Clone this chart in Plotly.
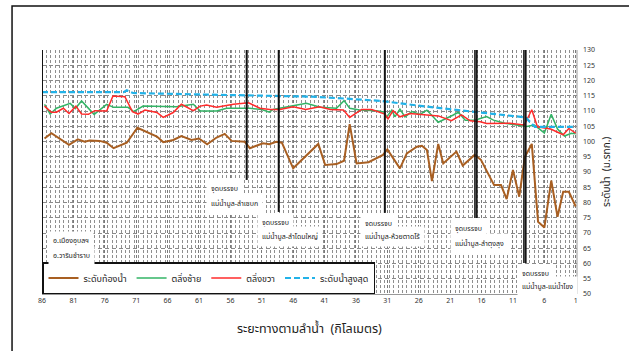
import plotly.graph_objects as go

# ---------------- data ----------------
bed_km = [85.6, 84.5, 81.7, 80.3, 79.2, 78.4, 76.8, 75.7, 74.6, 72.5, 70.8, 69.3, 67.7, 66.7,
          65.1, 63.8, 62.2, 61.0, 59.7, 58.2, 56.9, 55.8, 53.7, 52.9, 50.8, 49.8, 48.7, 47.8,
          46.0, 42.0, 40.9, 39.1, 37.9, 37.0, 35.9, 34.0, 32.7, 31.7, 31.0, 29.0, 27.9, 26.3,
          25.5, 24.7, 23.9, 22.9, 22.1, 20.0, 19.0, 17.1, 16.1, 14.0, 12.9, 12.0, 11.0, 10.0,
          9.1, 8.0, 7.0, 6.0, 4.9, 3.9, 3.0, 2.1, 1.0]
bed_lvl = [101.0, 102.7, 98.9, 100.7, 99.9, 100.3, 100.2, 99.6, 97.8, 99.6, 104.5, 103.0, 101.6, 99.8,
           100.5, 101.8, 100.5, 101.0, 99.1, 101.3, 102.5, 100.2, 99.9, 97.8, 99.4, 99.1, 99.9, 99.6,
           91.2, 99.2, 92.3, 92.6, 93.7, 105.7, 92.8, 93.2, 94.5, 95.6, 97.4, 91.2, 96.1, 98.3,
           98.6, 97.2, 87.0, 99.2, 92.8, 96.7, 92.1, 95.6, 94.0, 85.7, 85.7, 81.1, 90.7, 81.9,
           95.0, 99.2, 73.7, 71.8, 87.2, 75.3, 83.5, 83.5, 78.7]

left_km = [85.6, 84.7, 83.7, 81.5, 80.7, 79.7, 77.7, 75.7, 74.6, 72.3, 71.4, 69.9, 64.6, 61.9,
           60.8, 58.2, 56.6, 52.9, 51.0, 49.8, 49.2, 46.0, 43.9, 41.7, 39.1, 37.9, 37.0, 35.4,
           32.7, 31.4, 31.2, 30.3, 29.8, 29.0, 28.2, 27.1, 25.8, 24.7, 22.9, 20.5, 19.7, 18.6,
           17.1, 15.2, 14.1, 12.3, 8.8, 7.6, 6.0, 4.9, 3.9, 2.8, 1.7, 1.0]
left_lvl = [112.2, 109.0, 110.9, 112.5, 110.8, 113.3, 108.9, 112.2, 111.2, 111.2, 109.8, 111.6, 111.4, 112.2,
            110.0, 110.0, 110.9, 110.9, 110.5, 109.6, 110.5, 111.6, 112.5, 111.2, 110.9, 113.4, 110.9, 110.3,
            110.1, 109.6, 107.8, 110.3, 108.1, 110.6, 108.1, 109.8, 108.9, 110.3, 106.3, 108.7, 109.6, 107.0,
            107.0, 108.2, 107.0, 106.0, 104.9, 105.4, 102.8, 108.9, 104.1, 101.8, 102.7, 102.5]

right_km = [85.6, 84.5, 83.7, 82.6, 81.7, 80.6, 79.7, 78.6, 77.6, 75.7, 74.7, 72.8, 71.6, 70.7,
            69.6, 67.7, 66.7, 65.1, 63.8, 61.9, 60.8, 59.8, 58.2, 55.5, 53.1, 51.3, 49.7, 48.1,
            46.0, 44.0, 41.8, 40.1, 38.0, 37.0, 35.1, 33.5, 31.4, 30.9, 30.1, 29.0, 27.4, 25.3,
            22.9, 20.8, 19.2, 17.8, 16.2, 15.2, 13.6, 11.5, 9.2, 8.0, 7.1, 5.0, 3.0, 2.1, 1.0]
right_lvl = [111.6, 109.6, 109.6, 110.9, 109.2, 111.6, 109.0, 108.9, 110.1, 110.0, 114.9, 114.7, 109.8, 109.0,
             110.3, 109.5, 107.9, 109.5, 112.2, 110.1, 111.6, 112.0, 111.2, 112.2, 112.7, 110.9, 110.5, 110.5,
             111.4, 110.5, 111.4, 110.5, 110.3, 107.9, 110.5, 110.5, 109.0, 107.4, 110.1, 108.1, 109.2, 108.9,
             108.4, 106.8, 108.7, 106.8, 106.5, 105.9, 106.0, 106.0, 105.4, 110.4, 104.8, 104.1, 102.2, 104.3, 102.7]

max_km = [86.0, 73.0, 72.5, 71.5, 65.0, 55.0, 50.0, 43.0, 38.0, 32.0, 25.0, 17.0, 12.0, 9.0, 7.5, 1.0]
max_lvl = [116.2, 116.2, 116.8, 115.9, 115.6, 115.2, 114.9, 114.7, 114.1, 113.3, 111.5, 109.8, 108.5, 107.9, 104.8, 104.8]

x_ticks = [86, 81, 76, 71, 66, 61, 56, 51, 46, 41, 36, 31, 26, 21, 16, 11, 6, 1]
y_ticks = list(range(50, 131, 5))

series_names = ["ระดับท้องน้ำ", "ตลิ่งซ้าย", "ตลิ่งขวา", "ระดับน้ำสูงสุด"]

# confluence marker lines: km, lower end (m.MSL), doubled?
conf_km = [86.0, 53.4, 48.3, 31.4, 16.9, 9.1]
conf_low = [50.0, 87.4, 76.9, 76.6, 74.9, 60.2]
conf_double = [False, False, False, False, True, True]

# place labels: first line / second line
label_line1 = ["อ.เมืองอุบลฯ", "จุดบรรจบ", "จุดบรรจบ", "จุดบรรจบ", "จุดบรรจบ", "จุดบรรจบ"]
label_line2 = ["อ.วารินชำราบ", "แม่น้ำมูล-ลำเซบก", "แม่น้ำมูล-ลำโดมใหญ่",
               "แม่น้ำมูล-ห้วยตาดโร้", "แม่น้ำมูล-ลำตุงลุง", "แม่น้ำมูล-แม่น้ำโขง"]
label_km = [85.0, 59.9, 51.8, 35.4, 21.0, 10.4]
label_lvl1 = [67.4, 84.4, 73.3, 73.0, 71.3, 56.6]
label_lvl2 = [62.5, 79.8, 69.0, 68.7, 66.7, 52.3]

FONT = "Tahoma, 'Noto Sans Thai', Loma, Garuda, Norasi, 'DejaVu Sans', sans-serif"

fig = go.Figure()
fig.add_trace(go.Scatter(x=bed_km, y=bed_lvl, mode="lines", name=series_names[0],
                         line=dict(color="#A85F22", width=2)))
fig.add_trace(go.Scatter(x=left_km, y=left_lvl, mode="lines", name=series_names[1],
                         line=dict(color="#33B466", width=1.5)))
fig.add_trace(go.Scatter(x=right_km, y=right_lvl, mode="lines", name=series_names[2],
                         line=dict(color="#FF2B2B", width=1.5)))
fig.add_trace(go.Scatter(x=max_km, y=max_lvl, mode="lines", name=series_names[3],
                         line=dict(color="#22B2E8", width=2.2, dash="6px,3px")))

shapes = []
for k, lo, dbl in zip(conf_km, conf_low, conf_double):
    offs = [-0.15, 0.15] if dbl else [0.0]
    for o in offs:
        shapes.append(dict(type="line", xref="x", yref="y", x0=k + o, x1=k + o, y0=lo, y1=130,
                           line=dict(color="#111111", width=1.6 if dbl else 2), layer="above"))
# outer frame
shapes.append(dict(type="rect", xref="paper", yref="paper", x0=-0.056, x1=1.2, y0=-0.4, y1=1.18,
                   line=dict(color="#111111", width=1.5), layer="above"))
# plot right border
shapes.append(dict(type="line", xref="paper", yref="paper", x0=1, x1=1, y0=0, y1=1,
                   line=dict(color="#999999", width=1), layer="above"))

annotations = []
for t1, t2, k, v1, v2 in zip(label_line1, label_line2, label_km, label_lvl1, label_lvl2):
    for t, v in ((t1, v1), (t2, v2)):
        annotations.append(dict(x=k, y=v, xref="x", yref="y", text=t, showarrow=False,
                                xanchor="left", yanchor="middle", align="left",
                                font=dict(family=FONT, size=7, color="#222222"),
                                bgcolor="white", borderpad=4))
annotations.append(dict(x=0.5, y=-0.1, xref="paper", yref="paper", showarrow=False,
                        text="ระยะทางตามลำน้ำ  (กิโลเมตร)", xanchor="center", yanchor="top",
                        font=dict(family=FONT, size=12.5, color="#222222")))
annotations.append(dict(x=1.0, xshift=30, y=0.5, xref="paper", yref="paper", showarrow=False,
                        text="ระดับน้ำ  (ม.รทก.)", textangle=-90, xanchor="center", yanchor="middle",
                        font=dict(family=FONT, size=10, color="#222222")))

fig.update_layout(
    width=629, height=351,
    margin=dict(l=42, r=52, t=50, b=57),
    paper_bgcolor="white", plot_bgcolor="white",
    font=dict(family=FONT, color="#222222"),
    shapes=shapes, annotations=annotations,
    showlegend=True,
    legend=dict(orientation="h", x=0, y=0, xanchor="left", yanchor="bottom",
                bgcolor="white", bordercolor="#111111", borderwidth=1.5,
                font=dict(family=FONT, size=9, color="#222222"),
                itemwidth=30, tracegroupgap=0),
    xaxis=dict(range=[86, 0.8], tickmode="array", tickvals=x_ticks,
               ticktext=[str(v) for v in x_ticks], automargin=False,
               tickfont=dict(size=7, color="#333333"),
               showgrid=True, gridcolor="#7a7a7a", griddash="3px,2px", gridwidth=1,
               minor=dict(tick0=86, dtick=0.7, showgrid=True, gridcolor="#8f8f8f",
                          griddash="3px,2px", gridwidth=1),
               showline=True, linecolor="#999999", zeroline=False, ticks=""),
    yaxis=dict(range=[50, 130], side="right", tickvals=y_ticks, automargin=False,
               tickfont=dict(size=7, color="#333333"),
               showgrid=True, gridcolor="#8a8a8a", griddash="4px,3px", gridwidth=1,
               zeroline=False, ticks="", ticklabelstandoff=5),
)

fig.write_html("out.html", config={"displayModeBar": False},
               post_script="document.body.style.margin='0';document.body.style.overflow='hidden';")
